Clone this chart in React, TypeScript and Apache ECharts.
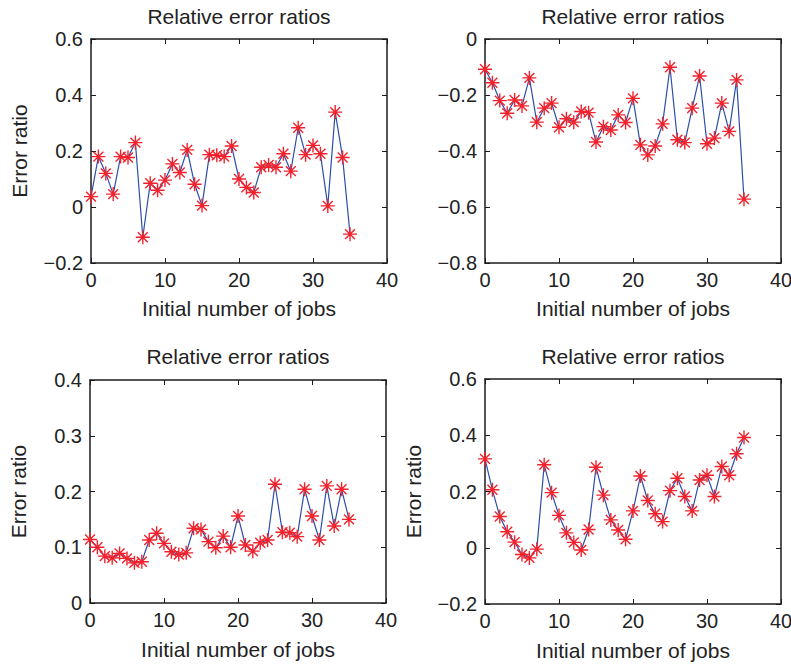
import React, { useEffect, useRef } from "react";
import * as echarts from "echarts";

const jobs = [0, 1, 2, 3, 4, 5, 6, 7, 8, 9, 10, 11, 12, 13, 14, 15, 16, 17, 18, 19, 20, 21, 22, 23, 24, 25, 26, 27, 28, 29, 30, 31, 32, 33, 34, 35];

const ratiosA = [0.037, 0.18, 0.12, 0.046, 0.18, 0.177, 0.23, -0.108, 0.085, 0.06, 0.096, 0.154, 0.123, 0.204, 0.081, 0.005, 0.187, 0.185, 0.18, 0.218, 0.1, 0.07, 0.052, 0.142, 0.15, 0.142, 0.19, 0.128, 0.283, 0.187, 0.22, 0.19, 0.004, 0.339, 0.177, -0.097];
const ratiosB = [-0.108, -0.156, -0.22, -0.265, -0.218, -0.239, -0.139, -0.297, -0.247, -0.229, -0.315, -0.285, -0.297, -0.259, -0.263, -0.368, -0.313, -0.325, -0.271, -0.298, -0.212, -0.378, -0.414, -0.382, -0.303, -0.101, -0.36, -0.37, -0.247, -0.132, -0.374, -0.354, -0.229, -0.33, -0.146, -0.572];
const ratiosC = [0.114, 0.1, 0.084, 0.081, 0.089, 0.08, 0.072, 0.074, 0.113, 0.125, 0.107, 0.092, 0.087, 0.09, 0.134, 0.132, 0.11, 0.099, 0.12, 0.1, 0.156, 0.104, 0.093, 0.108, 0.113, 0.213, 0.127, 0.126, 0.119, 0.204, 0.156, 0.113, 0.21, 0.138, 0.204, 0.15];
const ratiosD = [0.316, 0.206, 0.111, 0.057, 0.02, -0.024, -0.036, -0.005, 0.295, 0.196, 0.115, 0.053, 0.019, -0.008, 0.065, 0.286, 0.187, 0.099, 0.063, 0.03, 0.131, 0.255, 0.168, 0.121, 0.093, 0.203, 0.247, 0.182, 0.131, 0.241, 0.258, 0.182, 0.289, 0.258, 0.334, 0.392];

const titleText = "Relative error ratios";
const xName = "Initial number of jobs";
const yName = "Error ratio";

const xMin = 0;
const xMax = 40;
const xStep = 10;

type Panel = {
  values: number[];
  yMin: number;
  yMax: number;
  yStep: number;
  showYName: boolean;
  grid: { left: number; top: number; width: number; height: number };
  titleY: number;
  nameGapX: number;
};

const panels: Panel[] = [
  { values: ratiosA, yMin: -0.2, yMax: 0.6, yStep: 0.2, showYName: true, grid: { left: 91, top: 39, width: 296, height: 224 }, titleY: 16, nameGapX: 35 },
  { values: ratiosB, yMin: -0.8, yMax: 0, yStep: 0.2, showYName: false, grid: { left: 485, top: 39, width: 296, height: 224 }, titleY: 16, nameGapX: 35 },
  { values: ratiosC, yMin: 0, yMax: 0.4, yStep: 0.1, showYName: true, grid: { left: 90, top: 380, width: 296, height: 223 }, titleY: 356, nameGapX: 36 },
  { values: ratiosD, yMin: -0.2, yMax: 0.6, yStep: 0.2, showYName: true, grid: { left: 485, top: 379, width: 296, height: 225 }, titleY: 356, nameGapX: 36 },
];

const FONT = '"Liberation Sans", Arial, Helvetica, sans-serif';
const TEXT = "#222222";
const AXIS = "#1c1c1c";
const LINE = "#2b4ea8";
const MARK = "#f2222c";

const asterisk =
  "path://M0 9H20V11H0Z M9 0H11V20H9Z M3.64 2.22L17.78 16.36L16.36 17.78L2.22 3.64Z M17.78 3.64L3.64 17.78L2.22 16.36L16.36 2.22Z";

const fmtY = (v: number) => {
  if (Math.abs(v) < 1e-9) return "0";
  return (v < 0 ? "\u2212" : "") + Math.abs(v).toFixed(1);
};

export default function App() {
  const ref = useRef<HTMLDivElement>(null);

  useEffect(() => {
    document.body.style.margin = "0";
    document.body.style.padding = "0";
    document.documentElement.style.margin = "0";
    if (!ref.current) return;
    const chart = echarts.init(ref.current, null, { renderer: "svg" });

    const grids: any[] = [];
    const xAxes: any[] = [];
    const yAxes: any[] = [];
    const series: any[] = [];
    const graphics: any[] = [];

    panels.forEach((p, i) => {
      grids.push({ ...p.grid, show: false, containLabel: false, outerBoundsMode: "none" });
      const lineStyle = { show: true, onZero: false, lineStyle: { color: AXIS, width: 1.5 } };
      const tick = { show: true, inside: true, length: 5, lineStyle: { color: AXIS, width: 1 } };
      xAxes.push({
        type: "value",
        gridIndex: i,
        position: "bottom",
        min: xMin,
        max: xMax,
        interval: xStep,
        axisLine: lineStyle,
        axisTick: tick,
        splitLine: { show: false },
        axisLabel: { show: true, color: TEXT, fontFamily: FONT, fontSize: 20, margin: 7 },
        name: xName,
        nameLocation: "middle",
        nameGap: p.nameGapX,
        nameTextStyle: { color: TEXT, fontFamily: FONT, fontSize: 21 },
      });
      xAxes.push({
        type: "value",
        gridIndex: i,
        position: "top",
        min: xMin,
        max: xMax,
        interval: xStep,
        axisLine: lineStyle,
        axisTick: tick,
        splitLine: { show: false },
        axisLabel: { show: false },
      });
      yAxes.push({
        type: "value",
        gridIndex: i,
        position: "left",
        min: p.yMin,
        max: p.yMax,
        interval: p.yStep,
        axisLine: lineStyle,
        axisTick: tick,
        splitLine: { show: false },
        axisLabel: { show: true, color: TEXT, fontFamily: FONT, fontSize: 20, margin: 8, formatter: fmtY },
        name: p.showYName ? yName : "",
        nameLocation: "middle",
        nameGap: 61,
        nameTextStyle: { color: TEXT, fontFamily: FONT, fontSize: 21 },
      });
      yAxes.push({
        type: "value",
        gridIndex: i,
        position: "right",
        min: p.yMin,
        max: p.yMax,
        interval: p.yStep,
        axisLine: lineStyle,
        axisTick: tick,
        splitLine: { show: false },
        axisLabel: { show: false },
      });
      series.push({
        type: "line",
        xAxisIndex: 2 * i,
        yAxisIndex: 2 * i,
        data: jobs.map((x, k) => [x, p.values[k]]),
        symbol: asterisk,
        symbolSize: 14,
        showSymbol: true,
        itemStyle: { color: MARK },
        lineStyle: { color: LINE, width: 1.2 },
        z: 3,
      });
      graphics.push({
        type: "text",
        x: p.grid.left + p.grid.width / 2,
        y: p.titleY,
        style: {
          text: titleText,
          fill: TEXT,
          fontFamily: FONT,
          fontSize: 21,
          align: "center",
          verticalAlign: "middle",
        },
      });
    });

    chart.setOption({
      animation: false,
      backgroundColor: "#ffffff",
      grid: grids,
      xAxis: xAxes,
      yAxis: yAxes,
      series,
      graphic: graphics,
      tooltip: { show: false },
    });

    return () => chart.dispose();
  }, []);

  return <div ref={ref} style={{ width: 791, height: 667, background: "#fff" }} />;
}
